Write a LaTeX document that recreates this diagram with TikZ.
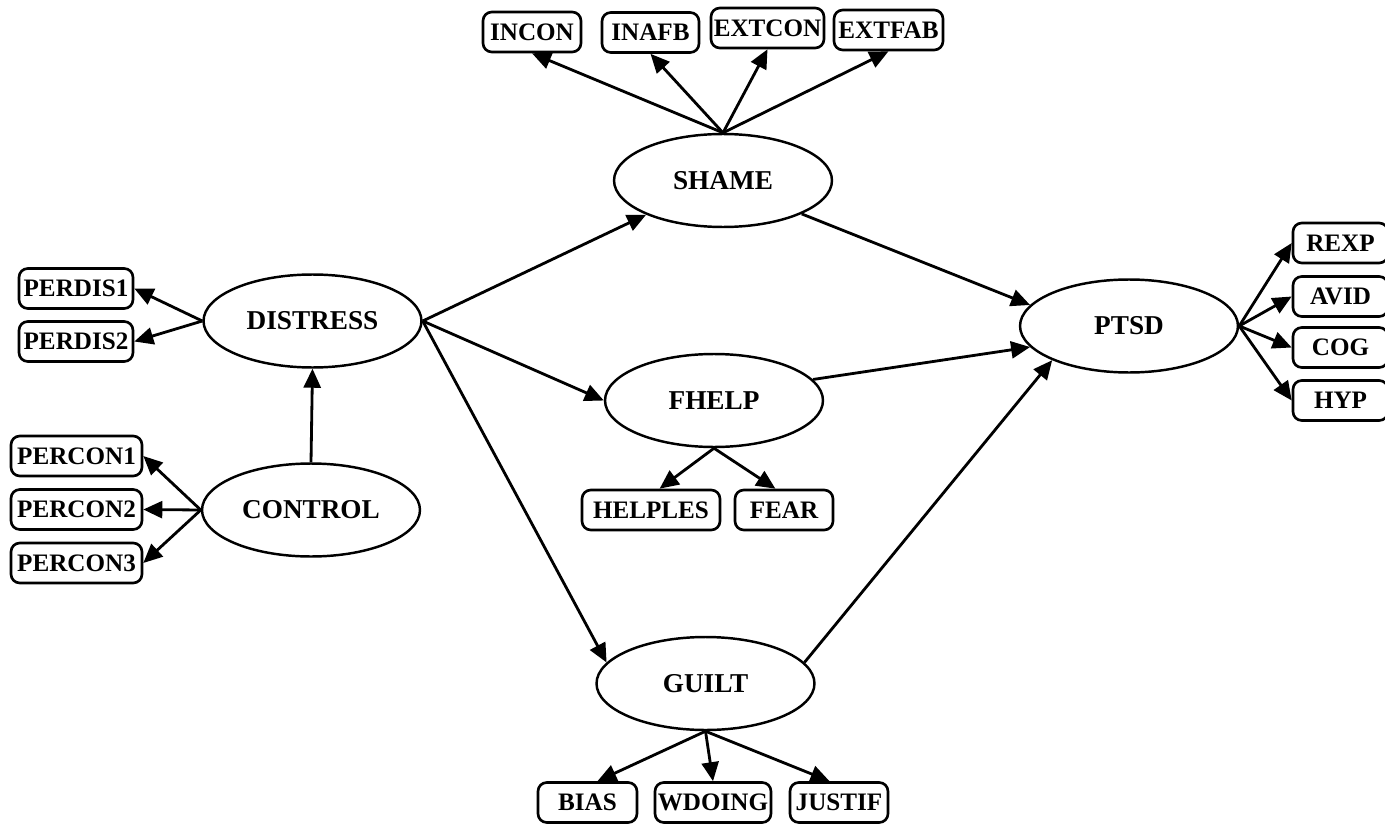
\documentclass[tikz,border=0pt]{standalone}
\usepackage{fontspec}
\setmainfont{Liberation Serif}
\usetikzlibrary{arrows.meta,shapes.geometric}
\begin{document}
\begin{tikzpicture}[x=0.02cm,y=-0.02cm,
  latent/.style={draw,ellipse,line width=1.4pt,minimum width=4.36cm,minimum height=1.86cm,inner sep=0pt,
    font=\fontsize{15.5}{18}\selectfont\bfseries},
  indicator/.style={draw,rounded corners=5pt,line width=1.5pt,minimum height=0.8cm,inner sep=0pt,
    font=\fontsize{14.3}{16}\selectfont\bfseries},
  arr/.style={line width=1.6pt,-{Triangle[length=0.38cm,width=0.34cm]}}]
\useasboundingbox (0,0) rectangle (1385,824);

% latent constructs
\node[latent] (shame)    at (723,180.5) {SHAME};
\node[latent] (distress) at (312.5,321) {DISTRESS};
\node[latent] (control)  at (311,510)   {CONTROL};
\node[latent] (fhelp)    at (714,400.5) {FHELP};
\node[latent] (guilt)    at (705.5,683.5) {GUILT};
\node[latent] (ptsd)     at (1129,326)  {PTSD};

% indicators
\node[indicator,minimum width=1.96cm] (incon)  at (532,32)    {INCON};
\node[indicator,minimum width=1.94cm] (inafb)  at (650.5,32.5) {INAFB};
\node[indicator,minimum width=2.26cm] (extcon) at (767.5,28)  {EXTCON};
\node[indicator,minimum width=2.18cm] (extfab) at (888.5,30)  {EXTFAB};

\node[indicator,minimum width=2.28cm] (perdis1) at (76,288.5) {PERDIS1};
\node[indicator,minimum width=2.28cm] (perdis2) at (76,341.5) {PERDIS2};

\node[indicator,minimum width=2.62cm] (percon1) at (76.5,456)   {PERCON1};
\node[indicator,minimum width=2.62cm] (percon2) at (76.5,509.5) {PERCON2};
\node[indicator,minimum width=2.62cm] (percon3) at (76.5,563)   {PERCON3};

\node[indicator,minimum width=1.9cm] (rexp) at (1340.5,243)   {REXP};
\node[indicator,minimum width=1.9cm] (avid) at (1340.5,296.5) {AVID};
\node[indicator,minimum width=1.9cm] (cog)  at (1340.5,347.5) {COG};
\node[indicator,minimum width=1.9cm] (hyp)  at (1340.5,400.5) {HYP};

\node[indicator,minimum width=2.76cm] (helples) at (651,510) {HELPLES};
\node[indicator,minimum width=1.96cm] (fear)    at (784,510) {FEAR};

\node[indicator,minimum width=1.98cm] (bias)   at (587.5,802.5) {BIAS};
\node[indicator,minimum width=2.32cm] (wdoing) at (713,802.5)   {WDOING};
\node[indicator,minimum width=1.96cm] (justif) at (839,802.5)   {JUSTIF};

% structural paths
\draw[arr] (control.north) -- (distress.south);
\draw[arr] (distress.east) -- (shame.204);
\draw[arr] (distress.east) -- (fhelp.west);
\draw[arr] (distress.east) -- (guilt.168);
\draw[arr] (shame.337) -- (ptsd.168);
\draw[arr] (fhelp.12) -- (ptsd.192);
\draw[arr] (guilt.12) -- (ptsd.204);

% measurement paths
\foreach \t in {incon,inafb,extcon,extfab}
  \draw[arr] (shame.north) -- (\t.south);
\foreach \t in {perdis1,perdis2}
  \draw[arr] (distress.west) -- (\t.east);
\foreach \t in {percon1,percon2,percon3}
  \draw[arr] (control.west) -- (\t.east);
\foreach \t in {rexp,avid,cog,hyp}
  \draw[arr] (ptsd.east) -- (\t.west);
\draw[arr] (fhelp.south) -- (helples.68);
\draw[arr] (fhelp.south) -- (fear.112);
\draw[arr] (guilt.south) -- (bias.65);
\draw[arr] (guilt.south) -- (wdoing.north);
\draw[arr] (guilt.south) -- (justif.114);
\end{tikzpicture}
\end{document}
